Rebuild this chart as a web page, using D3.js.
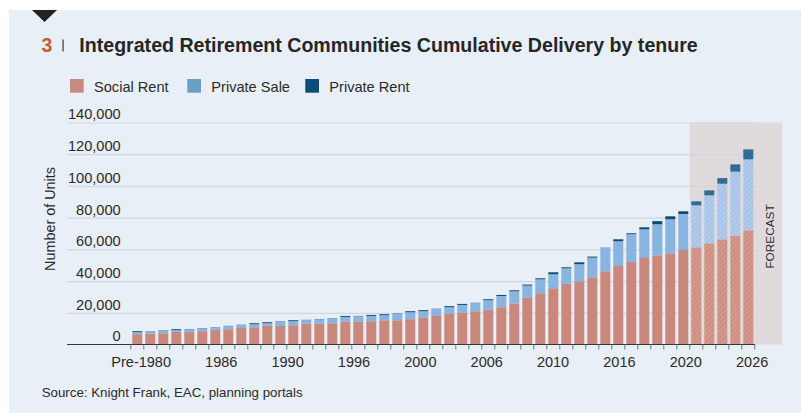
<!DOCTYPE html>
<html>
<head>
<meta charset="utf-8">
<script src="https://cdn.jsdelivr.net/npm/d3@7"></script>
<style>
  body { margin: 0; background: #fff; }
  svg text { font-family: "Liberation Sans", Arial, sans-serif; fill: #2b2b2b; }
</style>
</head>
<body>
<svg id="chart" width="801" height="413"></svg>
<script>
// cumulative units by year
var years = ["Pre-1980", "1980", "1981", "1982", "1983", "1984", "1985", "1986", "1987", "1988",
  "1989", "1990", "1991", "1992", "1993", "1994", "1995", "1996", "1997", "1998",
  "1999", "2000", "2001", "2002", "2003", "2004", "2005", "2006", "2007", "2008",
  "2009", "2010", "2011", "2012", "2013", "2014", "2015", "2016", "2017", "2018",
  "2019", "2020", "2021", "2022", "2023", "2024", "2025", "2026"];

var socialRent = [6500, 6800, 7100, 7900, 7800, 8400, 9200, 9650, 10400, 10900,
  11700, 11700, 12150, 13000, 13000, 13400, 14250, 14250, 14700, 15300,
  15300, 15950, 16800, 18000, 19300, 19900, 21000, 21800, 23500, 25850,
  29400, 32300, 35450, 38200, 39900, 42400, 46200, 49500, 52050, 54550,
  56250, 57500, 59600, 61300, 63800, 66350, 68650, 72000];

var privateSale = [1300, 1500, 1800, 1150, 1800, 1800, 1600, 1950, 1900, 1900,
  1750, 2900, 2550, 2400, 2950, 3100, 3150, 3650, 3350, 3200,
  4350, 4400, 4200, 4450, 4250, 5050, 5150, 6100, 7100, 7700,
  7750, 8800, 8850, 9850, 10700, 12400, 14800, 15600, 17450, 18100,
  19550, 21450, 22700, 26450, 30250, 35050, 40350, 44750];

var privateRent = [600, 150, 150, 600, 150, 150, 150, 150, 150, 600,
  600, 150, 600, 150, 150, 150, 600, 150, 600, 600,
  150, 650, 650, 150, 650, 650, 150, 650, 650, 650,
  650, 650, 1250, 650, 1250, 650, 150, 1250, 650, 1250,
  2000, 1900, 1700, 2550, 3150, 3550, 4600, 6300];

var forecastFrom = "2022";
var yTicks = [0, 20000, 40000, 60000, 80000, 100000, 120000, 140000];
var xLabels = ["Pre-1980", "1986", "1990", "1996", "2000", "2006", "2010", "2016", "2020", "2026"];

var keys = ["Social Rent", "Private Sale", "Private Rent"];
var barColor = {"Social Rent": "#c8887b", "Private Sale": "#8ab4e0", "Private Rent": "#0e4c74"};
var legendColor = {"Social Rent": "#c98b7f", "Private Sale": "#6aa0c6", "Private Rent": "#0b4f79"};
var hatchColor = {"Social Rent": ["#cd8e81", "#d9a296"], "Private Sale": ["#a5c3e6", "#bcd3ee"], "Private Rent": ["#2b6891", "#3c7aa2"]};

var rows = years.map(function(yr, i) {
  return {year: yr, "Social Rent": socialRent[i], "Private Sale": privateSale[i], "Private Rent": privateRent[i]};
});

var svg = d3.select("#chart");

// panel
svg.append("rect").attr("x", 9).attr("y", 10).attr("width", 792).attr("height", 403).attr("fill", "#e8eff7");
svg.append("path").attr("d", "M32,10 L57,10 L44.5,22 Z").attr("fill", "#222");

// title
var title = svg.append("text").attr("x", 41.5).attr("y", 51.5).style("font-size", "19.6px").style("font-weight", "bold");
title.append("tspan").text("3").style("fill", "#c0622b");
svg.append("rect").attr("x", 62.3).attr("y", 39.5).attr("width", 1.6).attr("height", 12).attr("fill", "#666");
svg.append("text").attr("x", 79.3).attr("y", 51.5).style("font-size", "19.6px").style("font-weight", "bold")
  .style("fill", "#262626")
  .text("Integrated Retirement Communities Cumulative Delivery by tenure");

// legend
var legendX = [70, 187.3, 305.3];
var legend = svg.selectAll(".legend").data(keys).enter().append("g")
    .attr("class", "legend")
    .attr("transform", function(d, i) { return "translate(" + legendX[i] + ",79)"; });
legend.append("rect").attr("width", 13.7).attr("height", 13.7).attr("fill", function(d) { return legendColor[d]; });
legend.append("text").attr("x", 24).attr("y", 13.2).style("font-size", "14.6px").text(function(d) { return d; });

// scales
var x = d3.scaleBand().domain(years).range([130.8, 754.8]).paddingInner(0.23).paddingOuter(0.115);
var y = d3.scaleLinear().domain([0, 140000]).range([344.5, 122.5]);
var gap = x.step() - x.bandwidth();

// forecast shade
var fx = x(forecastFrom) - gap / 2;
svg.append("rect").attr("x", fx).attr("y", y(140000)).attr("width", 782 - fx)
  .attr("height", y(0) - y(140000)).attr("fill", "#e1dadc");
svg.append("text")
  .attr("transform", "translate(774," + ((y(0) + y(140000)) / 2 + 3) + ") rotate(-90)")
  .attr("text-anchor", "middle").style("font-size", "11.8px").text("FORECAST");

// hatch patterns
var defs = svg.append("defs");
keys.forEach(function(k, i) {
  var p = defs.append("pattern").attr("id", "hatch" + i)
      .attr("patternUnits", "userSpaceOnUse").attr("width", 3.5).attr("height", 3.5)
      .attr("patternTransform", "rotate(45)");
  p.append("rect").attr("width", 3.5).attr("height", 3.5).attr("fill", hatchColor[k][0]);
  p.append("line").attr("x1", 0.8).attr("y1", 0).attr("x2", 0.8).attr("y2", 3.5)
    .attr("stroke", hatchColor[k][1]).attr("stroke-width", 1);
});

// y grid + labels
var yAxis = svg.append("g").attr("transform", "translate(67,0)")
  .call(d3.axisLeft(y).tickValues(yTicks).tickSize(-690).tickFormat(d3.format(",")));
yAxis.select(".domain").remove();
yAxis.selectAll(".tick line").attr("stroke", "#d0d7de").attr("stroke-width", 1.2)
  .filter(function(d) { return d === 0; }).remove();
yAxis.selectAll(".tick text").attr("x", 53.7).attr("dy", -3.6).attr("text-anchor", "end")
  .style("font-size", "14.6px").style("fill", "#2b2b2b").attr("font-family", null);

svg.append("text")
  .attr("transform", "translate(55,219) rotate(-90)")
  .attr("text-anchor", "middle").style("font-size", "14.4px").text("Number of Units");

// bars
var stack = d3.stack().keys(keys)(rows);
var isForecast = function(d) { return years.indexOf(d.data.year) >= years.indexOf(forecastFrom); };

svg.append("g").selectAll("g").data(stack).enter().append("g")
  .each(function(s, si) {
    d3.select(this).selectAll("rect").data(s).enter().append("rect")
      .attr("x", function(d) { return x(d.data.year); })
      .attr("width", x.bandwidth())
      .attr("y", function(d) { return y(d[1]); })
      .attr("height", function(d) { return y(d[0]) - y(d[1]); })
      .attr("fill", function(d) { return isForecast(d) ? "url(#hatch" + si + ")" : barColor[s.key]; });
  });

// x axis
svg.append("line").attr("x1", 67).attr("x2", 755).attr("y1", y(0)).attr("y2", y(0))
  .attr("stroke", "#333").attr("stroke-width", 1.2);
var tickPos = years.map(function(d) { return x(d) - gap / 2; }).concat([x.range()[1]]);
svg.append("g").selectAll("line").data(tickPos).enter().append("line")
  .attr("x1", function(d) { return d; }).attr("x2", function(d) { return d; })
  .attr("y1", y(0)).attr("y2", y(0) + 5)
  .attr("stroke", "#777").attr("stroke-width", 1);

var xl = d3.scalePoint().domain(xLabels).range([171, 768.3]);
svg.append("g").selectAll("text").data(xLabels).enter().append("text")
  .attr("x", function(d) { return xl(d); }).attr("y", 367.3)
  .attr("text-anchor", "end").style("font-size", "14.5px")
  .text(function(d) { return d; });

// source
svg.append("text").attr("x", 41.7).attr("y", 397).style("font-size", "13.3px")
  .text("Source: Knight Frank, EAC, planning portals");
</script>
</body>
</html>
